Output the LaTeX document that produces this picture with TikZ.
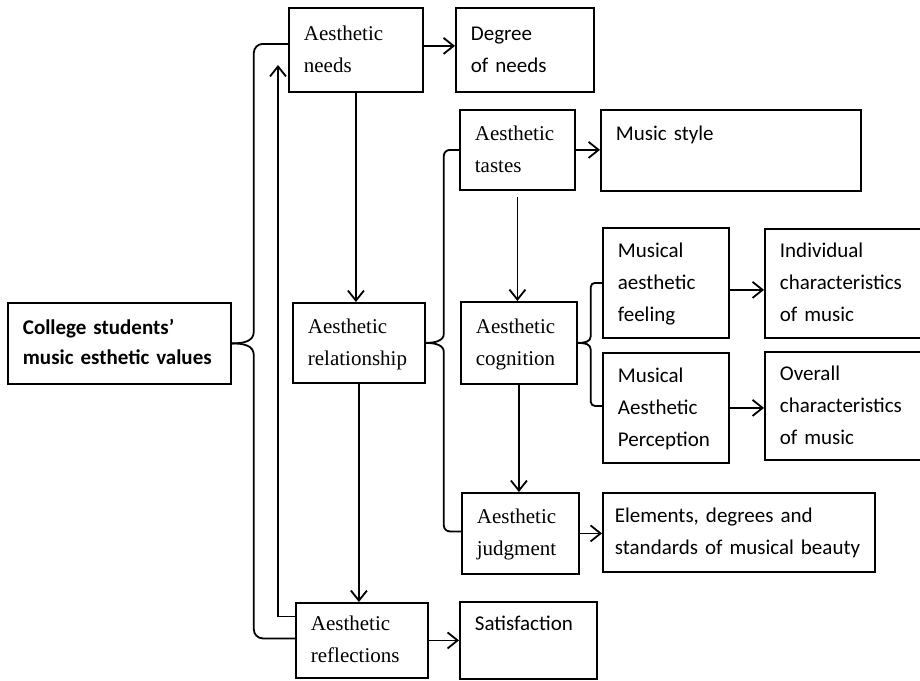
\documentclass[tikz,border=0pt]{standalone}
\usepackage{fontspec}
\setmainfont{Liberation Serif}
\setsansfont{Carlito}
\usetikzlibrary{arrows.meta,calc}
\tikzset{
  node-box/.style={draw,line width=1.8pt,anchor=north west,inner xsep=15pt,
    inner ysep=0pt,align=left,execute at begin node=\strut,
    execute at end node=\strut},
  node-serif/.style={font=\fontsize{21}{32}\selectfont},
  node-sans/.style={font=\sffamily\fontsize{21}{32}\selectfont},
  node-bold/.style={font=\sffamily\bfseries\fontsize{21}{30}\selectfont},
  node-size/.style 2 args={minimum width=#1pt,minimum height=#2pt,
    text width=#1pt-30pt},
  arrow/.style={-{Straight Barb[length=10pt,width=16pt]},line width=1.8pt},
  link/.style={line width=1.8pt},
}
\begin{document}
\begin{tikzpicture}[x=1pt,y=-1pt]
  \useasboundingbox (0,0) rectangle (920,680);
  \clip (0,0) rectangle (920,680);
  % boxes
  \node[node-box,node-bold,node-size={223}{81}]  (college)  at (7,302)   {College students’\\music esthetic values};
  \node[node-box,node-serif,node-size={134}{84}] (needs)    at (288,7)   {Aesthetic\\needs};
  \node[node-box,node-sans,node-size={138}{84}]  (degree)   at (455,7)   {Degree\\of needs};
  \node[node-box,node-serif,node-size={132}{80}] (relation) at (292,302) {Aesthetic\\relationship};
  \node[node-box,node-serif,node-size={132}{75}] (reflect)  at (295,602) {Aesthetic\\reflections};
  \node[node-box,node-sans,node-size={137}{77}]  (satisf)   at (459,601) {Satisfaction\\\mbox{}};
  \node[node-box,node-serif,node-size={115}{80}] (tastes)   at (459,109) {Aesthetic\\tastes};
  \node[node-box,node-sans,node-size={260}{81}]  (style)    at (600,109) {Music style\\\mbox{}};
  \node[node-box,node-serif,node-size={116}{82}] (cognition) at (460,301) {Aesthetic\\cognition};
  \node[node-box,node-serif,node-size={117}{81}] (judgment) at (461,492) {Aesthetic\\judgment};
  \node[node-box,node-sans,node-size={272}{79},inner xsep=12pt,text width=248pt]
                                                 (elements) at (602,492) {Elements, degrees and\\standards of musical beauty};
  \node[node-box,node-sans,node-size={126}{110}] (feeling)  at (602,227) {Musical\\aesthetic\\feeling};
  \node[node-box,node-sans,node-size={126}{110}] (percep)   at (602,352) {Musical\\Aesthetic\\Perception};
  \node[node-box,node-sans,node-size={170}{109}] (indiv)    at (764,228) {Individual\\characteristics\\of music};
  \node[node-box,node-sans,node-size={170}{108}] (overall)  at (764,351) {Overall\\characteristics\\of music};
  \coordinate (fb) at (278,65);

  % brackets
  \draw[link] (college.east) .. controls +(12,0) and +(0,10) .. ++(22,-12)
    [rounded corners=9pt] |- ([yshift=6pt]needs.west);
  \draw[link] (college.east) .. controls +(12,0) and +(0,-10) .. ++(22,12)
    [rounded corners=9pt] |- ([yshift=2pt]reflect.west);
  \draw[link] (relation.east) .. controls +(9,0) and +(0,7) .. ++(18,-9)
    [rounded corners=6pt] |- (tastes.west);
  \draw[link] (relation.east) .. controls +(9,0) and +(0,-7) .. ++(18,9)
    [rounded corners=6pt] |- ([yshift=2pt]judgment.west);
  \draw[link] (cognition.east) .. controls +(7,0) and +(0,6) .. ++(13,-7)
    [rounded corners=4pt] |- (feeling.west);
  \draw[link] (cognition.east) .. controls +(7,0) and +(0,-6) .. ++(13,7)
    [rounded corners=4pt] |- ([yshift=2pt]percep.west);

  % arrows
  \draw[arrow] ([yshift=24pt]reflect.west) -| (fb);
  \draw[arrow] ([yshift=4pt]needs.east) -- ([yshift=4pt]needs.east -| degree.west);
  \draw[arrow] (needs.south) -- (needs.south |- relation.north);
  \draw[arrow] (relation.south) -- (relation.south |- reflect.north);
  \draw[arrow] (reflect.east) -- (reflect.east -| satisf.west);
  \draw[arrow] (tastes.east) -- (tastes.east -| style.west);
  \draw[arrow,shorten <=6pt] (tastes.south) -- (tastes.south |- cognition.north);
  \draw[arrow] (cognition.south) -- (cognition.south |- judgment.north);
  \draw[arrow] (judgment.east) -- (judgment.east -| elements.west);
  \draw[arrow] ([yshift=-7pt]feeling.east) -- ([yshift=-7pt]feeling.east -| indiv.west);
  \draw[arrow] (percep.east) -- (percep.east -| overall.west);
\end{tikzpicture}
\end{document}
